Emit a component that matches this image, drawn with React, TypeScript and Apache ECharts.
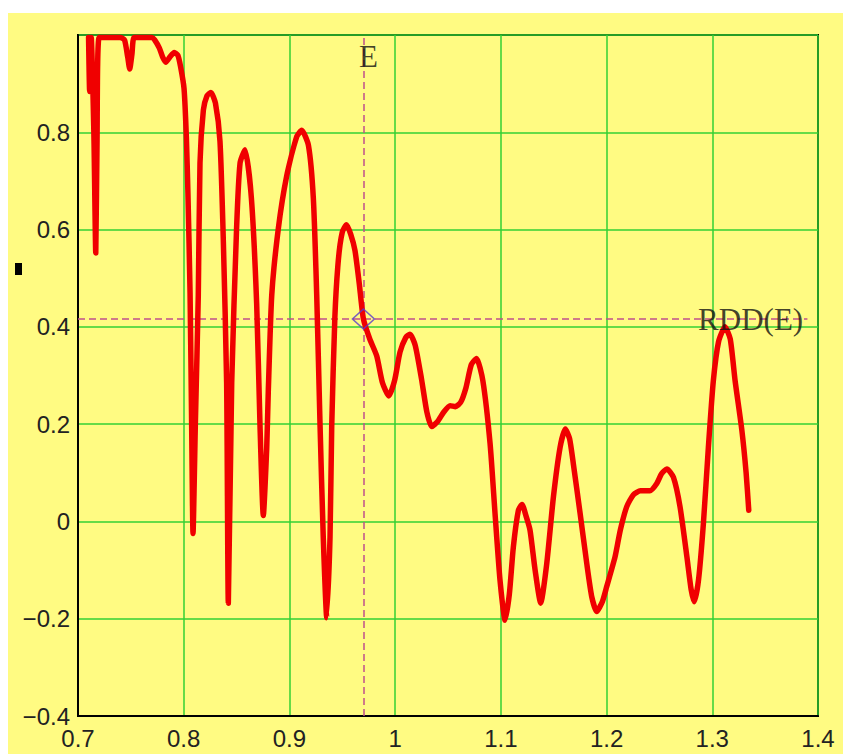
import React, { useEffect, useRef } from "react";
import * as echarts from "echarts";

// R(E) response curve sampled along E
const CURVE_X = [
  0.7100, 0.7110, 0.7125, 0.7150, 0.7168, 0.7180, 0.7200, 0.7300, 0.7400, 0.7440,
  0.7470, 0.7489, 0.7510, 0.7530, 0.7600, 0.7700, 0.7725, 0.7770, 0.7800, 0.7830,
  0.7870, 0.7910, 0.7945, 0.7970, 0.8003, 0.8025, 0.8040, 0.8060, 0.8075, 0.8088,
  0.8110, 0.8138, 0.8154, 0.8186, 0.8220, 0.8257, 0.8300, 0.8343, 0.8375, 0.8406,
  0.8422, 0.8454, 0.8500, 0.8533, 0.8580, 0.8640, 0.8690, 0.8722, 0.8753, 0.8785,
  0.8800, 0.8833, 0.8895, 0.8974, 0.9069, 0.9116, 0.9180, 0.9226, 0.9258, 0.9290,
  0.9320, 0.9353, 0.9384, 0.9400, 0.9430, 0.9463, 0.9500, 0.9540, 0.9580, 0.9620,
  0.9660, 0.9700, 0.9760, 0.9826, 0.9880, 0.9940, 0.9995, 1.0046, 1.0100, 1.0140,
  1.0190, 1.0250, 1.0300, 1.0346, 1.0400, 1.0460, 1.0520, 1.0570, 1.0620, 1.0670,
  1.0720, 1.0770, 1.0830, 1.0898, 1.0945, 1.0992, 1.1040, 1.1080, 1.1118, 1.1166,
  1.1200, 1.1240, 1.1276, 1.1324, 1.1377, 1.1434, 1.1497, 1.1560, 1.1610, 1.1650,
  1.1686, 1.1750, 1.1813, 1.1860, 1.1907, 1.1960, 1.2000, 1.2080, 1.2130, 1.2190,
  1.2254, 1.2320, 1.2410, 1.2475, 1.2520, 1.2570, 1.2632, 1.2695, 1.2760, 1.2800,
  1.2830, 1.2870, 1.2916, 1.2963, 1.3010, 1.3060, 1.3120, 1.3170, 1.3216, 1.3280,
  1.3320, 1.3345,
];
const CURVE_Y = [
  0.995, 0.884, 0.995, 0.800, 0.552, 0.780, 0.995, 0.995, 0.995, 0.990,
  0.955, 0.930, 0.960, 0.995, 0.995, 0.995, 0.990, 0.973, 0.955, 0.944,
  0.955, 0.964, 0.958, 0.935, 0.890, 0.790, 0.674, 0.470, 0.200, -0.025,
  0.200, 0.466, 0.737, 0.846, 0.875, 0.882, 0.860, 0.782, 0.575, 0.285,
  -0.168, 0.285, 0.602, 0.737, 0.764, 0.665, 0.448, 0.195, 0.012, 0.150,
  0.267, 0.466, 0.602, 0.710, 0.791, 0.804, 0.773, 0.665, 0.466, 0.195,
  -0.032, -0.198, -0.032, 0.195, 0.421, 0.538, 0.595, 0.610, 0.590, 0.557,
  0.490, 0.416, 0.375, 0.340, 0.285, 0.258, 0.290, 0.348, 0.378, 0.385,
  0.362, 0.292, 0.225, 0.195, 0.205, 0.225, 0.238, 0.236, 0.245, 0.275,
  0.322, 0.335, 0.289, 0.160, 0.016, -0.121, -0.203, -0.150, -0.053, 0.023,
  0.035, 0.010, -0.018, -0.100, -0.168, -0.087, 0.050, 0.152, 0.190, 0.170,
  0.118, 0.016, -0.087, -0.155, -0.185, -0.165, -0.135, -0.073, -0.018, 0.030,
  0.055, 0.063, 0.063, 0.078, 0.098, 0.108, 0.091, 0.030, -0.073, -0.140,
  -0.165, -0.120, -0.004, 0.152, 0.289, 0.370, 0.400, 0.375, 0.289, 0.187,
  0.100, 0.023,
];

// Cursor position read out on the curve
const E_VALUE = 0.97;
const RDD_VALUE = 0.416;
const CURSOR_END_X = 1.39;
const RDD_LABEL_X = 1.2866;

// Axis ranges and ticks
const X_MIN = 0.7;
const X_MAX = 1.4;
const X_STEP = 0.1;
const Y_MIN = -0.4;
const Y_MAX = 1.0;
const Y_STEP = 0.2;

const BG = "#fffb82";
const GRID_GREEN = "#33d033";
const CURVE_RED = "#f00000";
const CURSOR_COLOR = "#c0508c";

// tick values with a true minus sign
const tickText = (v: number) => String(v).replace("-", "\u2212");

export default function App() {
  const ref = useRef<HTMLDivElement>(null);

  useEffect(() => {
    if (!ref.current) return;
    const chart = echarts.init(ref.current, undefined, { renderer: "svg" });
    const curve = CURVE_X.map((x, i) => [x, CURVE_Y[i]]);
    const axisLabel = {
      fontFamily: "Liberation Sans",
      fontSize: 24,
      color: "#222",
      formatter: tickText,
    };
    chart.setOption({
      animation: false,
      backgroundColor: BG,
      grid: {
        left: 70,
        top: 22,
        right: 25,
        bottom: 38,
        show: true,
        borderColor: "#000",
        borderWidth: 2,
        backgroundColor: "transparent",
      },
      xAxis: {
        type: "value",
        min: X_MIN,
        max: X_MAX,
        interval: X_STEP,
        axisLine: { show: true, onZero: false, lineStyle: { color: "#000", width: 2 } },
        axisTick: { show: false },
        splitLine: { show: true, lineStyle: { color: GRID_GREEN, width: 1.5 } },
        axisLabel: { ...axisLabel, margin: 10 },
      },
      yAxis: {
        type: "value",
        min: Y_MIN,
        max: Y_MAX,
        interval: Y_STEP,
        axisLine: { show: true, onZero: false, lineStyle: { color: "#000", width: 2 } },
        axisTick: { show: false },
        splitLine: { show: true, lineStyle: { color: GRID_GREEN, width: 1.5 } },
        axisLabel: { ...axisLabel, margin: 8, showMaxLabel: false },
      },
      graphic: [
        {
          type: "rect",
          left: 7,
          top: 250,
          shape: { width: 7, height: 12 },
          style: { fill: "#000" },
        },
      ],
      series: [
        {
          type: "line",
          data: curve,
          showSymbol: false,
          clip: true,
          smooth: 0.2,
          lineStyle: { color: CURVE_RED, width: 5.5, join: "round", cap: "round" },
          z: 3,
          markLine: {
            silent: true,
            symbol: "none",
            label: { show: false },
            lineStyle: { type: [7, 4], color: CURSOR_COLOR, width: 1.5 },
            data: [
              { xAxis: E_VALUE },
              [{ coord: [X_MIN, RDD_VALUE] }, { coord: [CURSOR_END_X, RDD_VALUE] }],
            ],
            z: 2,
          },
        },
        {
          type: "scatter",
          data: [[E_VALUE, RDD_VALUE]],
          symbol: "diamond",
          symbolSize: [22, 20],
          itemStyle: { color: "rgba(0,0,0,0)", borderColor: "#5a3acc", borderWidth: 1.5 },
          z: 4,
          silent: true,
        },
        {
          type: "scatter",
          symbolSize: 0,
          silent: true,
          z: 5,
          data: [
            {
              value: [E_VALUE, Y_MAX],
              label: { show: true, formatter: "E", position: "inside", offset: [5, 21] },
            },
            {
              value: [RDD_LABEL_X, RDD_VALUE],
              label: { show: true, formatter: "RDD(E)", position: "right", distance: 0 },
            },
          ],
          label: {
            fontFamily: "Liberation Serif",
            fontSize: 31,
            color: "#111",
          },
        },
      ],
    });
    return () => chart.dispose();
  }, []);

  return (
    <div
      ref={ref}
      style={{ position: "fixed", left: 8, top: 13, width: 835, height: 741 }}
    />
  );
}
